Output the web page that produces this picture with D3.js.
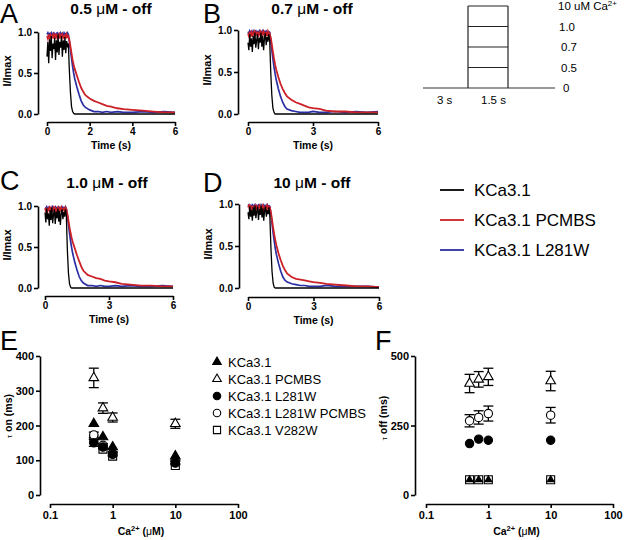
<!DOCTYPE html>
<html><head><meta charset="utf-8">
<script src="https://cdn.jsdelivr.net/npm/d3@7"></script>
<style>
body{margin:0;background:#fff}
svg{display:block}
text{font-family:"Liberation Sans",Arial,Helvetica,sans-serif;fill:#000}
</style>
</head><body>
<svg id="c" width="624" height="540"></svg>
<script>
// ---------- DATA ----------
// shared time axis (s) for the current traces
const T = [0,0.04,0.08,0.12,0.16,0.2,0.24,0.28,0.32,0.36,0.4,0.44,0.48,0.52,0.56,0.6,0.64,0.68,0.72,0.76,0.8,0.84,0.88,0.92,0.96,1.0,
  1.05,1.1,1.15,1.2,1.25,1.3,1.4,1.5,1.6,1.7,1.8,2.0,2.2,2.4,2.6,2.8,3.0,3.3,3.6,4.0,4.5,5.0,5.5,6.0];

// Panel A : 0.5 uM
const blackA = [0.70,0.88,0.62,0.91,0.77,0.95,0.68,0.86,0.79,0.93,0.66,0.90,0.75,0.97,0.72,0.88,0.81,0.95,0.70,0.90,0.78,0.94,0.74,0.89,0.83,0.86,
  0.52,0.26,0.09,0.03,0.01,0,0,0,0,0,0,0,0,0,0,0,0,0,0,0,0,0,0,0];
const redA = [0.95,0.92,0.97,0.93,0.96,0.91,0.95,0.97,0.92,0.96,0.94,0.98,0.93,0.95,0.97,0.92,0.96,0.94,0.97,0.93,0.95,0.96,0.92,0.97,0.94,0.95,
  0.90,0.82,0.74,0.66,0.60,0.55,0.47,0.39,0.32,0.27,0.23,0.19,0.16,0.14,0.12,0.10,0.09,0.07,0.06,0.05,0.04,0.03,0.02,0.02];
const blueA = [0.97,0.99,0.96,0.98,0.97,0.99,0.96,0.98,0.99,0.97,0.96,0.98,0.99,0.97,0.98,0.96,0.99,0.97,0.98,0.96,0.99,0.97,0.98,0.97,0.99,0.97,
  0.88,0.78,0.68,0.58,0.50,0.43,0.33,0.24,0.16,0.11,0.08,0.05,0.03,0.03,0.02,0.03,0.02,0.03,0.02,0.02,0.03,0.02,0.03,0.02];

// Panel B : 0.7 uM
const blackB = [0.85,0.76,0.95,0.80,0.90,0.74,0.93,0.83,0.97,0.79,0.88,0.95,0.77,0.91,0.85,0.97,0.80,0.93,0.76,0.90,0.96,0.82,0.92,0.86,0.95,0.88,
  0.50,0.22,0.07,0.02,0,0,0,0,0,0,0,0,0,0,0,0,0,0,0,0,0,0,0,0];
const redB = [0.96,0.93,0.98,0.94,0.97,0.92,0.96,0.98,0.93,0.97,0.95,0.98,0.92,0.96,0.98,0.93,0.97,0.95,0.98,0.94,0.96,0.97,0.93,0.98,0.95,0.96,
  0.91,0.83,0.74,0.66,0.59,0.53,0.44,0.36,0.30,0.25,0.21,0.17,0.14,0.12,0.10,0.08,0.07,0.06,0.04,0.03,0.03,0.02,0.02,0.02];
const blueB = [0.98,0.96,0.99,0.97,0.98,0.96,0.99,0.97,0.98,0.99,0.96,0.98,0.97,0.99,0.96,0.98,0.97,0.99,0.96,0.98,0.97,0.99,0.98,0.96,0.98,0.97,
  0.87,0.76,0.66,0.56,0.48,0.41,0.30,0.21,0.14,0.09,0.06,0.04,0.03,0.02,0.02,0.02,0.03,0.02,0.02,0.03,0.02,0.03,0.02,0.03];

// Panel C : 1.0 uM
const blackC = [0.92,0.80,0.97,0.84,0.91,0.76,0.95,0.83,0.98,0.79,0.90,0.96,0.78,0.93,0.85,0.97,0.81,0.94,0.77,0.91,0.96,0.84,0.93,0.87,0.96,0.88,
  0.45,0.18,0.05,0.01,0,0,0,0,0,0,0,0,0,0,0,0,0,0,0,0,0,0,0,0];
const redC = [0.97,0.94,0.98,0.93,0.96,0.98,0.94,0.97,0.92,0.96,0.98,0.94,0.97,0.93,0.96,0.98,0.94,0.97,0.95,0.98,0.93,0.96,0.97,0.94,0.98,0.96,
  0.90,0.82,0.74,0.67,0.61,0.56,0.48,0.40,0.33,0.26,0.21,0.16,0.14,0.12,0.11,0.09,0.08,0.07,0.05,0.04,0.03,0.03,0.02,0.02];
const blueC = [0.98,0.97,0.99,0.96,0.98,0.99,0.97,0.98,0.96,0.99,0.97,0.98,0.99,0.96,0.98,0.97,0.99,0.98,0.96,0.98,0.99,0.97,0.98,0.96,0.99,0.97,
  0.88,0.77,0.67,0.57,0.49,0.42,0.31,0.22,0.14,0.09,0.06,0.03,0.03,0.02,0.03,0.02,0.02,0.03,0.02,0.03,0.02,0.02,0.03,0.02];

// Panel D : 10 uM
const blackD = [0.90,0.82,0.97,0.85,0.93,0.80,0.96,0.86,0.98,0.83,0.91,0.97,0.81,0.94,0.87,0.98,0.84,0.95,0.80,0.92,0.97,0.85,0.93,0.88,0.96,0.86,
  0.48,0.20,0.06,0.01,0,0,0,0,0,0,0,0,0,0,0,0,0,0,0,0,0,0,0,0];
const redD = [0.96,0.98,0.93,0.97,0.95,0.98,0.92,0.96,0.98,0.94,0.97,0.93,0.96,0.98,0.94,0.97,0.95,0.98,0.93,0.96,0.97,0.94,0.98,0.95,0.97,0.96,
  0.90,0.81,0.72,0.64,0.57,0.51,0.41,0.33,0.26,0.21,0.17,0.13,0.11,0.10,0.09,0.08,0.07,0.06,0.05,0.04,0.03,0.02,0.02,0.01];
const blueD = [0.98,0.99,0.97,0.98,0.96,0.99,0.98,0.97,0.99,0.96,0.98,0.97,0.99,0.98,0.96,0.99,0.97,0.98,0.99,0.97,0.98,0.96,0.99,0.97,0.98,0.97,
  0.88,0.77,0.66,0.56,0.47,0.40,0.29,0.20,0.13,0.09,0.07,0.05,0.04,0.03,0.03,0.02,0.02,0.02,0.03,0.02,0.02,0.02,0.02,0.01];

const traceTitles = ["0.5", "0.7", "1.0", "10"];
const traceLegend = ["KCa3.1", "KCa3.1 PCMBS", "KCa3.1 L281W"];

// protocol schematic
const protocolLevels = ["10 uM Ca", "1.0", "0.7", "0.5", "0"];
const protocolDurations = ["3 s", "1.5 s"];

// Panels E/F: Ca2+ concentrations (uM)
const conc = [0.5, 0.7, 1, 10];
const seriesNames = ["KCa3.1", "KCa3.1 PCMBS", "KCa3.1 L281W", "KCa3.1 L281W PCMBS", "KCa3.1 V282W"];
// tau on (ms)
const onKCa     = [205, 167, 138, 112];
const onPCMBS   = [337, 250, 223, 205];
const onPCMBSe  = [28, 15, 13, 13];
const onL281W   = [150, 138, 117, 92];
const onL281We  = [10, 5, 5, 5];
const onL281WP  = [173, 143, 120, 95];
const onL281WPe = [8, 5, 5, 5];
const onV282W   = [160, 132, 112, 85];
// tau off (ms)
const offKCa     = [55, 55, 55, 55];
const offPCMBS   = [401, 416, 425, 410];
const offPCMBSe  = [33, 28, 31, 35];
const offL281W   = [185, 201, 197, 197];
const offL281WP  = [267, 279, 293, 287];
const offL281WPe = [22, 24, 27, 28];
const offV282W   = [55, 55, 55, 55];

const onTicks = [0, 100, 200, 300, 400];
const offTicks = [0, 250, 500];
const concTicks = [0.1, 1, 10, 100];

// ---------- DRAW ----------
const svg = d3.select("#c");
const RED = "#cc2027", BLUE = "#2b2fa3";

function styleAxis(sel, fs){
  sel.select(".domain").attr("stroke","#000").attr("stroke-width",1.6);
  sel.selectAll(".tick line").attr("stroke","#000").attr("stroke-width",1.6);
  sel.selectAll(".tick text").attr("font-size",fs).attr("font-weight","bold")
     .attr("font-family",'"Liberation Sans",Arial,sans-serif').attr("fill","#000");
}

function tracePanel(c){
  const g = svg.append("g");
  const x = d3.scaleLinear().domain([0,6]).range([c.px0,c.px1]);
  const y = d3.scaleLinear().domain([0,1]).range([c.yBot,c.yTop]);
  const ya = g.append("g").attr("transform",`translate(${c.ax},0)`)
    .call(d3.axisLeft(y).tickValues([0,0.5,1]).tickFormat(d3.format(".1f")).tickSize(4).tickSizeOuter(0).tickPadding(2));
  styleAxis(ya, 10);
  const xa = g.append("g").attr("transform",`translate(0,${c.axY})`)
    .call(d3.axisBottom(x).tickValues(c.xticks).tickFormat(d3.format("d")).tickSize(4).tickSizeOuter(0).tickPadding(2));
  styleAxis(xa, 10);
  const line = d3.line().x((d,i)=>x(T[i])).y(d=>y(d));
  g.append("path").attr("d",line(c.blue)).attr("fill","none").attr("stroke",BLUE).attr("stroke-width",1.7);
  g.append("path").attr("d",line(c.red)).attr("fill","none").attr("stroke",RED).attr("stroke-width",1.8);
  g.append("path").attr("d",line(c.black)).attr("fill","none").attr("stroke","#000").attr("stroke-width",1.3);
  // labels
  g.append("text").attr("transform",`translate(${c.ax-27},${(c.yTop+c.yBot)/2-2}) rotate(-90)`)
    .attr("text-anchor","middle").attr("font-size",11).attr("font-weight","bold").text("I/Imax");
  g.append("text").attr("x",(c.px0+c.px1)/2).attr("y",c.axY+27).attr("text-anchor","middle")
    .attr("font-size",10.5).attr("font-weight","bold").text("Time (s)");
  const t = g.append("text").attr("x",c.titleX).attr("y",c.titleY).attr("text-anchor","middle")
    .attr("font-size",15.5).attr("font-weight","bold");
  t.append("tspan").text(c.title + " ");
  t.append("tspan").attr("font-weight","normal").text("\u03BC");
  t.append("tspan").text("M - off");
  g.append("text").attr("x",c.lx).attr("y",c.ly).attr("font-size",27).text(c.letter);
}

tracePanel({letter:"A",lx:0,ly:23,title:traceTitles[0],titleX:111,titleY:14,ax:38,px0:47,px1:175,yTop:32,yBot:114,axY:122,xticks:[0,2,4,6],black:blackA,red:redA,blue:blueA});
tracePanel({letter:"B",lx:203,ly:23,title:traceTitles[1],titleX:312,titleY:14,ax:238,px0:248,px1:378,yTop:30,yBot:114,axY:122,xticks:[0,3,6],black:blackB,red:redB,blue:blueB});
tracePanel({letter:"C",lx:0,ly:190,title:traceTitles[2],titleX:107,titleY:188,ax:38,px0:45,px1:173,yTop:206,yBot:288,axY:296,xticks:[0,3,6],black:blackC,red:redC,blue:blueC});
tracePanel({letter:"D",lx:203,ly:192,title:traceTitles[3],titleX:312,titleY:188,ax:239,px0:248,px1:379,yTop:204,yBot:288,axY:297,xticks:[0,3,6],black:blackD,red:redD,blue:blueD});

// protocol schematic
(function(){
  const g = svg.append("g");
  const ly = d3.scalePoint().domain(protocolLevels).range([6,88]);
  const bx0 = 468, bx1 = 508;
  g.append("line").attr("x1",423).attr("x2",555).attr("y1",ly("0")).attr("y2",ly("0")).attr("stroke","#333").attr("stroke-width",1.2);
  g.append("line").attr("x1",bx0).attr("x2",bx0).attr("y1",ly(protocolLevels[0])).attr("y2",ly("0")).attr("stroke","#222").attr("stroke-width",1.2);
  g.append("line").attr("x1",bx1).attr("x2",bx1).attr("y1",ly(protocolLevels[0])).attr("y2",ly("0")).attr("stroke","#222").attr("stroke-width",1.2);
  protocolLevels.slice(0,4).forEach(l=>{
    g.append("line").attr("x1",bx0).attr("x2",bx1).attr("y1",ly(l)).attr("y2",ly(l)).attr("stroke","#222").attr("stroke-width",1.2);
  });
  const xs = [558,559,561,561,563];
  protocolLevels.forEach((l,i)=>{
    const t = g.append("text").attr("x",xs[i]).attr("y",ly(l)+4).attr("font-size",11.5).text(l);
    if(i===0) t.append("tspan").attr("dy",-4).attr("font-size",8).text("2+");
  });
  g.append("text").attr("x",437).attr("y",104).attr("font-size",11.5).text(protocolDurations[0]);
  g.append("text").attr("x",481).attr("y",104).attr("font-size",11.5).text(protocolDurations[1]);
})();

// middle legend
(function(){
  const g = svg.append("g");
  const cols = ["#000", RED, BLUE];
  const yy = d3.scalePoint().domain(traceLegend).range([190,250]);
  traceLegend.forEach((n,i)=>{
    g.append("line").attr("x1",440).attr("x2",464).attr("y1",yy(n)).attr("y2",yy(n)).attr("stroke",cols[i]).attr("stroke-width",1.8);
    g.append("text").attr("x",474).attr("y",yy(n)+6).attr("font-size",17).text(n);
  });
})();

// scatter panels
function sym(type, size){ return d3.symbol().type(type).size(size)(); }
const markerDefs = [
  {type:d3.symbolTriangle, fill:"#000", size:40},
  {type:d3.symbolTriangle, fill:"#fff", size:40},
  {type:d3.symbolCircle, fill:"#000", size:55},
  {type:d3.symbolCircle, fill:"#fff", size:55},
  {type:d3.symbolSquare, fill:"#fff", size:64}
];

function scatterPanel(c){
  const g = svg.append("g");
  const x = d3.scaleLog().domain([0.1,100]).range([c.px0,c.px1]);
  const y = d3.scaleLinear().domain([0,c.ymax]).range([495,356]);
  const ya = g.append("g").attr("transform",`translate(${c.ax},0)`)
    .call(d3.axisLeft(y).tickValues(c.yticks).tickFormat(d3.format("d")).tickSize(4).tickSizeOuter(0).tickPadding(2));
  styleAxis(ya, 11);
  const xa = g.append("g").attr("transform",`translate(0,504)`)
    .call(d3.axisBottom(x).tickValues(concTicks).tickFormat(d=>String(d)).tickSize(4).tickSizeOuter(0).tickPadding(3));
  styleAxis(xa, 11);
  // x label
  const xl = g.append("text").attr("x",(c.px0+c.px1)/2 - 3).attr("y",535).attr("text-anchor","middle")
    .attr("font-size",10.5).attr("font-weight","bold");
  xl.append("tspan").text("Ca");
  xl.append("tspan").attr("dy",-4).attr("font-size",7.5).text("2+");
  xl.append("tspan").attr("dy",4).text(" (");
  xl.append("tspan").attr("font-weight","normal").text("\u03BC");
  xl.append("tspan").text("M)");
  // y label
  const yl = g.append("text").attr("transform",`translate(${c.ylx},${c.yly}) rotate(-90)`)
    .attr("text-anchor","middle").attr("font-size",10.5).attr("font-weight","bold");
  yl.append("tspan").attr("font-weight","normal").attr("font-size",8).text("\u03C4");
  yl.append("tspan").text(" " + c.ylab + " (ms)");
  // letter
  g.append("text").attr("x",c.lx).attr("y",350).attr("font-size",27).text(c.letter);
  // draw order: squares, open circles, filled circles, open triangles, filled triangles
  const order = [4,3,2,1,0];
  order.forEach(si=>{
    const s = c.series[si];
    const m = markerDefs[si];
    const sz = (si===0 && c.smallTri) ? 20 : m.size;
    s.v.forEach((v,i)=>{
      const cx = x(conc[i]), cy = y(v);
      if(s.e){
        const e = s.e[i];
        g.append("line").attr("x1",cx).attr("x2",cx).attr("y1",y(v+e)).attr("y2",y(v-e)).attr("stroke","#000").attr("stroke-width",1.3);
        [v+e, v-e].forEach(w=>g.append("line").attr("x1",cx-5).attr("x2",cx+5).attr("y1",y(w)).attr("y2",y(w)).attr("stroke","#000").attr("stroke-width",1.3));
      }
      g.append("path").attr("d",sym(m.type, sz)).attr("transform",`translate(${cx},${cy})`)
        .attr("fill",m.fill).attr("stroke","#000").attr("stroke-width",1.1);
    });
  });
}

scatterPanel({letter:"E",lx:0,ax:40,px0:50,px1:238,ymax:400,yticks:onTicks,ylab:"on",ylx:12,yly:416,
  series:[{v:onKCa},{v:onPCMBS,e:onPCMBSe},{v:onL281W,e:onL281We},{v:onL281WP,e:onL281WPe},{v:onV282W}]});
scatterPanel({letter:"F",lx:375,ax:415,px0:426,px1:613,ymax:500,yticks:offTicks,ylab:"off",ylx:387,yly:418,smallTri:true,
  series:[{v:offKCa},{v:offPCMBS,e:offPCMBSe},{v:offL281W},{v:offL281WP,e:offL281WPe},{v:offV282W}]});

// E legend
(function(){
  const g = svg.append("g");
  const yy = d3.scalePoint().domain(seriesNames).range([362,430]);
  seriesNames.forEach((n,i)=>{
    const m = markerDefs[i];
    g.append("path").attr("d",sym(m.type, m.size*0.8)).attr("transform",`translate(217,${yy(n)})`)
      .attr("fill",m.fill).attr("stroke","#000").attr("stroke-width",1.1);
    g.append("text").attr("x",228).attr("y",yy(n)+4.5).attr("font-size",13).text(n);
  });
})();
</script>
</body></html>
